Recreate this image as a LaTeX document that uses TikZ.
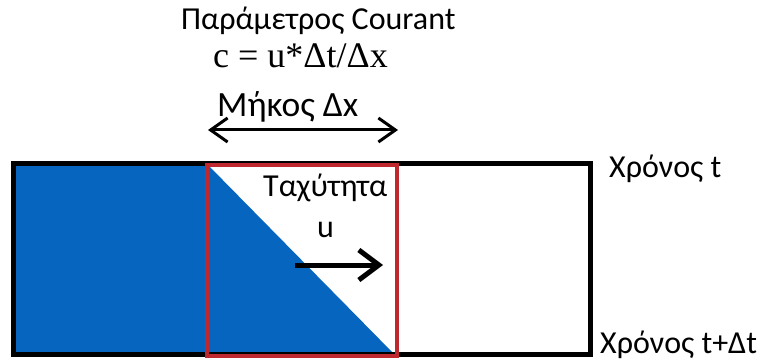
\documentclass[tikz,border=0pt]{standalone}
\usepackage{fontspec}
\setmainfont{Carlito}
\newfontfamily\formfont{Liberation Serif}
\usetikzlibrary{arrows.meta}
\definecolor{cellblue}{RGB}{6,101,190}
\definecolor{cellred}{RGB}{192,40,48}
\begin{document}
\begin{tikzpicture}[x=1pt,y=-1pt,every node/.style={inner sep=0pt,font=\fontsize{32}{33}\selectfont},
  labeltext/.style={anchor=base west,text depth=0pt}]
\useasboundingbox (0,0) rectangle (765,363);
% filled cells
\fill[cellblue] (13,164) rectangle (207,355);
\fill[cellblue] (207,164) -- (395,355) -- (207,355) -- cycle;
% cells at time t and t+dt
\draw[line width=5pt] (13,164) rectangle (590,354);
\draw[cellred,line width=4pt] (207,165) rectangle (397,356);
% labels above
\node[labeltext] (title) at (181,30) {Παράμετρος Courant};
\node[labeltext,text height=23pt,font=\formfont\fontsize{36}{37}\selectfont] (formula) at (213,68) {c = u*Δt/Δx};
\node[labeltext,font=\fontsize{35.5}{36}\selectfont] (length) at (217,117) {Μήκος Δx};
\coordinate (dxleft) at (208,130);
\coordinate (dxright) at (398,130);
\draw[line width=3pt,{Straight Barb[length=17pt,width=24pt,line width=3pt]}-{Straight Barb[length=17pt,width=24pt,line width=3pt]}] (dxleft) -- (dxright);
% velocity
\node[labeltext] (speed) at (263,197) {Ταχύτητα};
\node[labeltext] (u) at (317,238) {u};
\coordinate (ustart) at (295,265);
\coordinate (uend) at (383,265);
\draw[line width=5pt,-{Straight Barb[length=20pt,width=30pt,line width=5pt]}] (ustart) -- (uend);
% time labels
\node[labeltext] (timet) at (609,178) {Χρόνος t};
\node[labeltext] (timedt) at (600,353) {Χρόνος t+Δt};
\end{tikzpicture}
\end{document}
